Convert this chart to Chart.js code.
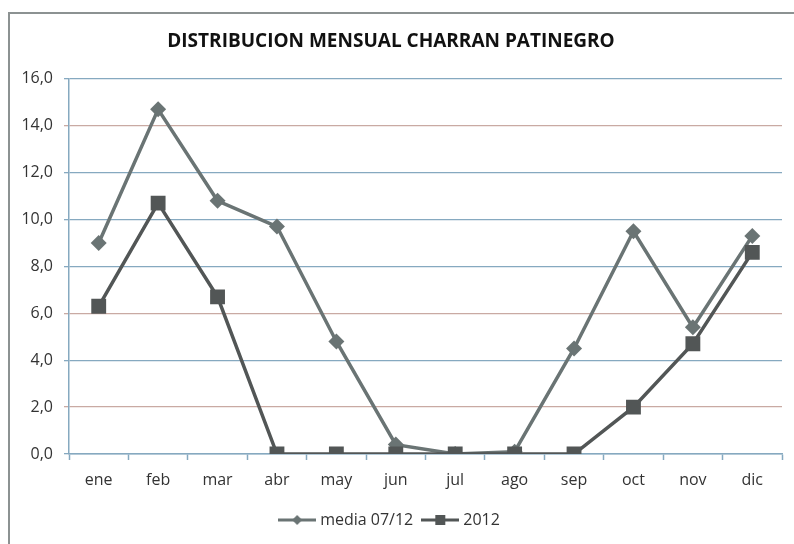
<!DOCTYPE html>
<html>
<head>
<meta charset="utf-8">
<script src="https://cdn.jsdelivr.net/npm/chart.js@4"></script>
<style>
  html, body { margin: 0; padding: 0; background: #fff; }
  #wrap { position: relative; width: 794px; height: 544px; overflow: hidden; }
  #frame { position: absolute; left: 8px; top: 12px; width: 800px; height: 560px;
           border-left: 2px solid #8c9292; border-top: 2px solid #8c9292; }
  #chart { position: absolute; left: 0; top: 0; }
</style>
</head>
<body>
<div id="wrap">
  <div id="frame"></div>
  <canvas id="chart" width="794" height="544"></canvas>
</div>
<script>
var months = ['ene', 'feb', 'mar', 'abr', 'may', 'jun', 'jul', 'ago', 'sep', 'oct', 'nov', 'dic'];
var media0712 = [9.0, 14.7, 10.8, 9.7, 4.8, 0.4, 0.0, 0.1, 4.5, 9.5, 5.4, 9.3];
var serie2012 = [6.3, 10.7, 6.7, 0.0, 0.0, 0.0, 0.0, 0.0, 0.0, 2.0, 4.7, 8.6];
var yMin = 0, yMax = 16, yStep = 2;

var colMedia = '#6a7474';
var col2012 = '#525656';
var font = '"Open Sans", "Liberation Sans", sans-serif';

// little legend markers: a line with the point in the middle
const legendMark = (color, shape) => {
  var c = document.createElement('canvas');
  c.width = 38; c.height = 12;
  var g = c.getContext('2d');
  g.strokeStyle = color; g.lineWidth = 3;
  g.beginPath(); g.moveTo(0, 6); g.lineTo(38, 6); g.stroke();
  g.fillStyle = color;
  if (shape === 'diamond') {
    g.beginPath(); g.moveTo(19, 1); g.lineTo(24, 6); g.lineTo(19, 11); g.lineTo(14, 6); g.closePath(); g.fill();
  } else {
    g.fillRect(14, 1, 10, 10);
  }
  return c;
};
var marks = [legendMark(colMedia, 'diamond'), legendMark(col2012, 'square')];

// the gridlines in the original come out blue, some of them reddish
const gridColor = (c) => {
  var v = c.tick ? c.tick.value : 0;
  return (v === 14 || v === 6 || v === 2) ? '#c9aaa3' : '#86a9c0';
};

var ctx = document.getElementById('chart');
var chart = new Chart(ctx, {
  type: 'line',
  data: {
    labels: months,
    datasets: [{
      label: 'media 07/12',
      data: media0712,
      borderColor: colMedia,
      backgroundColor: colMedia,
      borderWidth: 3.5,
      pointStyle: 'rectRot',
      pointRadius: 8,
      pointBorderWidth: 0,
      tension: 0,
      order: 1
    }, {
      label: '2012',
      data: serie2012,
      borderColor: col2012,
      backgroundColor: col2012,
      borderWidth: 3.5,
      pointStyle: 'rect',
      pointRadius: 10.5,
      pointBorderWidth: 0,
      tension: 0,
      order: 0
    }]
  },
  options: {
    responsive: false,
    animation: false,
    layout: { padding: { left: 0, right: 12, top: 0, bottom: 6 } },
    plugins: {
      title: {
        display: true,
        text: 'DISTRIBUCION MENSUAL CHARRAN PATINEGRO',
        color: '#111',
        font: { family: font, size: 19, weight: 'bold' },
        padding: { top: 30, bottom: 26 }
      },
      legend: {
        position: 'bottom',
        labels: {
          usePointStyle: true,
          pointStyleWidth: 30,
          color: '#333',
          font: { family: font, size: 16 },
          padding: 12,
          sort: (a, b) => a.datasetIndex - b.datasetIndex,
          generateLabels: (ch) => {
            var items = Chart.defaults.plugins.legend.labels.generateLabels(ch);
            items.forEach((it) => { it.pointStyle = marks[it.datasetIndex]; });
            return items;
          }
        }
      },
      tooltip: { enabled: false }
    },
    scales: {
      x: {
        offset: true,
        afterFit: (s) => { s.height = 46; },
        grid: { offset: true, drawOnChartArea: false, color: '#86a9c0', tickLength: 6, tickWidth: 1.5 },
        border: { color: '#86a9c0', width: 1.5 },
        ticks: { color: '#333', font: { family: font, size: 16 }, padding: 11, maxRotation: 0 }
      },
      y: {
        min: yMin,
        max: yMax,
        afterFit: (s) => { s.width = 69; },
        grid: { color: gridColor, lineWidth: 1.3, tickLength: 5 },
        border: { color: '#86a9c0', width: 1.5 },
        ticks: {
          stepSize: yStep,
          color: '#333',
          padding: 11,
          font: { family: font, size: 16 },
          callback: (v) => v.toFixed(1).replace('.', ',')
        }
      }
    }
  }
});
</script>
</body>
</html>
